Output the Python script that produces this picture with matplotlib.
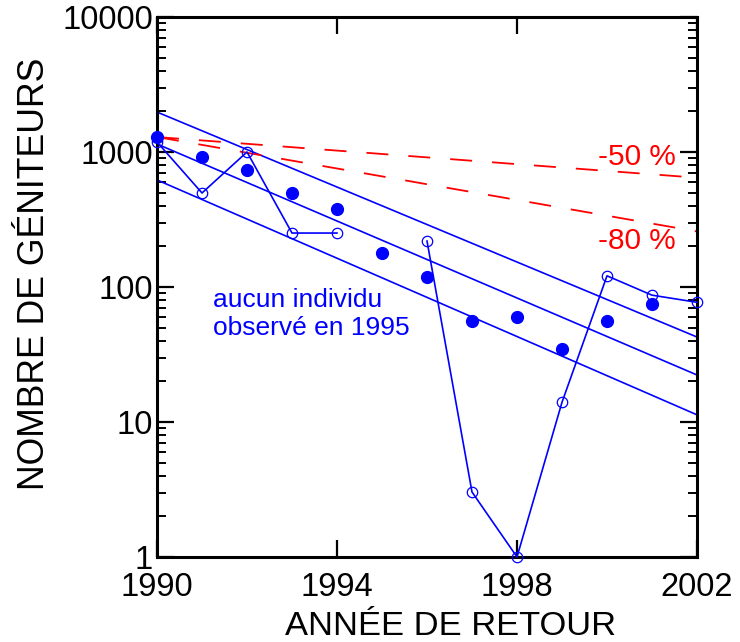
import matplotlib.pyplot as plt
import numpy as np

plt.rcParams['font.family'] = ['Liberation Sans', 'DejaVu Sans']

# géniteurs comptés (points pleins)
years_full = [1990, 1991, 1992, 1993, 1994, 1995, 1996, 1997, 1998, 1999, 2000, 2001]
counts_full = [1291, 918, 736, 497, 378, 179, 119, 56, 60, 35, 56, 75]

# deuxième série (cercles vides), rien en 1995
years_open = [1990, 1991, 1992, 1993, 1994, 1995, 1996, 1997, 1998, 1999, 2000, 2001, 2002]
counts_open = [1186, 497, 1000, 251, 251, np.nan, 219, 3.03, 1.0, 14, 121, 87, 77]

# droites de tendance (valeurs aux extrémités)
trend_years = [1990, 2002]
trend_upper = [1977, 42.6]
trend_mid = [1146, 22.3]
trend_lower = [621, 11.3]

# références -50 % et -80 %
ref_years = [1990, 2002]
ref_50 = [1291, 645]
ref_80 = [1291, 258]

fig = plt.figure(figsize=(7.4, 6.42), dpi=100)
ax = fig.add_axes([157/740, 1-557/642, 540/740, 540/642])

blue = '#0000ff'
red = '#ff0000'

for t in (trend_upper, trend_mid, trend_lower):
    ax.plot(trend_years, t, color=blue, lw=1.2)

dash = (0, (22*0.72/1.3, 20*0.72/1.3))
ax.plot(ref_years, ref_50, color=red, lw=1.3, linestyle=dash)
ax.plot(ref_years, ref_80, color=red, lw=1.3, linestyle=dash)

ax.plot(years_open, counts_open, color=blue, lw=1.2, marker='o', ms=7.5,
        mfc='none', mec=blue, mew=0.9, clip_on=False, zorder=3)
ax.plot(years_full, counts_full, 'o', color=blue, ms=8.5, clip_on=False, zorder=4)

ax.set_yscale('log')
ax.set_xlim(1990, 2002)
ax.set_ylim(1, 10000)
ax.set_xticks([1990, 1994, 1998, 2002])
ax.set_yticks([1, 10, 100, 1000, 10000])
ax.set_yticklabels(['1', '10', '100', '1000', '10000'])
ax.yaxis.set_minor_locator(plt.matplotlib.ticker.LogLocator(base=10, subs=np.arange(2, 10)))
ax.yaxis.set_minor_formatter(plt.matplotlib.ticker.NullFormatter())

ax.tick_params(axis='both', which='major', direction='in', length=12, width=1.6,
               labelsize=23.5, top=True, right=True)
ax.tick_params(axis='x', pad=11)
ax.tick_params(axis='y', pad=3)
ax.tick_params(axis='y', which='minor', direction='in', length=6.5, width=1.4,
               left=True, right=True)
for s in ax.spines.values():
    s.set_linewidth(2.2)

ax.set_xlabel('ANNÉE DE RETOUR', fontsize=24.8, va='center', ha='center')
ax.xaxis.set_label_coords(0.544, -0.128)
ax.set_ylabel('NOMBRE DE GÉNITEURS', fontsize=25.7, va='center', ha='center')
ax.yaxis.set_label_coords(-0.226, 0.524)

ax.text(0.1037, 0.476, 'aucun individu', color=blue, fontsize=19,
        transform=ax.transAxes, ha='left', va='center')
ax.text(0.1037, 0.424, 'observé en 1995', color=blue, fontsize=19,
        transform=ax.transAxes, ha='left', va='center')
ax.text(0.889, 0.741, '-50 %', color=red, fontsize=21.4,
        transform=ax.transAxes, ha='center', va='center')
ax.text(0.889, 0.585, '-80 %', color=red, fontsize=21.4,
        transform=ax.transAxes, ha='center', va='center')

fig.savefig('out.png', dpi=100)
